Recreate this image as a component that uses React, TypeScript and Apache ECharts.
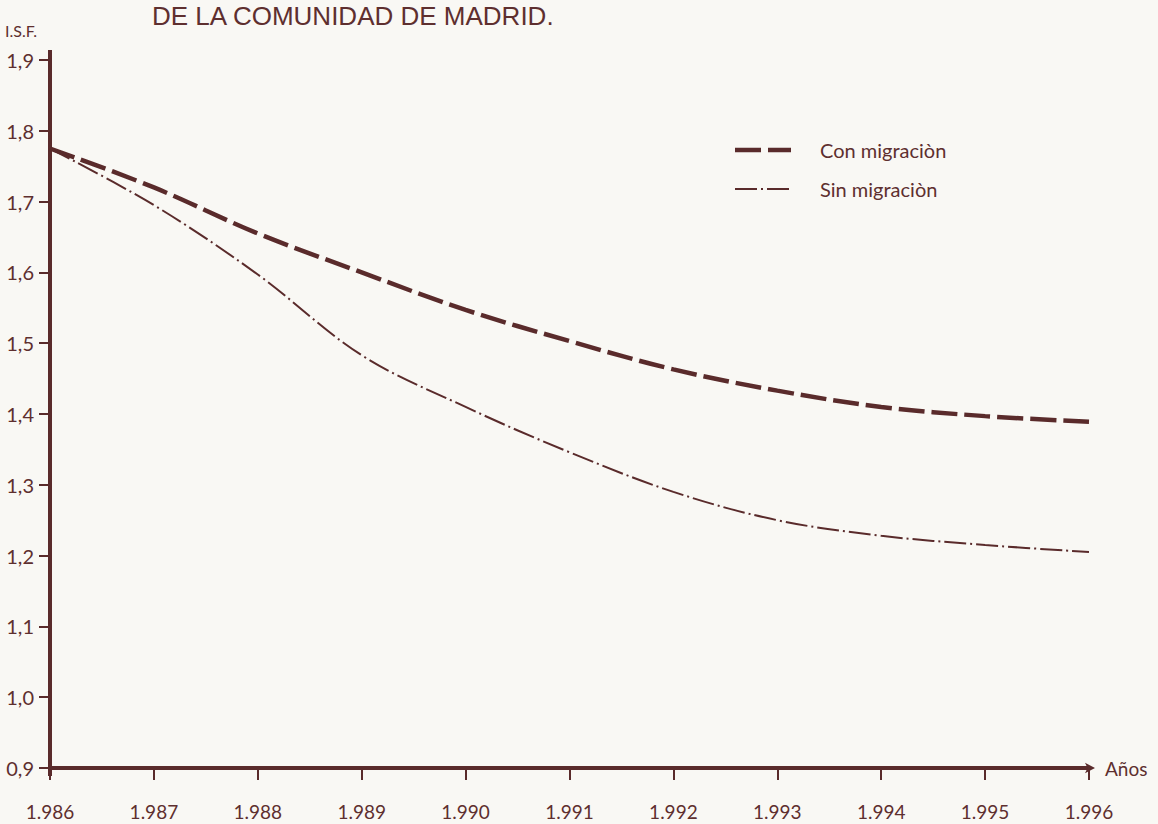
import React, { useEffect, useRef } from "react";
import * as echarts from "echarts";

const years = ["1.986", "1.987", "1.988", "1.989", "1.990", "1.991", "1.992", "1.993", "1.994", "1.995", "1.996"];
const conMigracion = [1.775, 1.72, 1.655, 1.6, 1.547, 1.503, 1.463, 1.433, 1.41, 1.397, 1.389];
const sinMigracion = [1.775, 1.695, 1.597, 1.483, 1.41, 1.346, 1.29, 1.25, 1.228, 1.215, 1.205];
const seriesNames = ["Con migraciòn", "Sin migraciòn"];
const titleText = "DE LA COMUNIDAD DE MADRID.";
const yAxisTitle = "I.S.F.";
const xAxisTitle = "Años";

const INK = "#5a2b2b";
const TEXT = "#5e2f2f";
const FONT = "Lato, 'Liberation Sans', sans-serif";
const CON_DASH = [26, 7];
const SIN_DASH = [22, 4, 2, 4];

export default function App() {
  const ref = useRef<HTMLDivElement>(null);
  useEffect(() => {
    if (!ref.current) return;
    const chart = echarts.init(ref.current, null, { renderer: "svg" });
    chart.setOption({
      animation: false,
      backgroundColor: "#f9f8f4",
      textStyle: { fontFamily: FONT, color: TEXT },
      grid: { left: 50, right: 69, top: 60, bottom: 56, containLabel: false },
      legend: { show: false, data: seriesNames },
      graphic: [
        {
          id: "title",
          type: "text",
          left: 152,
          top: 3,
          style: { text: titleText, fontFamily: "'Liberation Sans', sans-serif", fontSize: 26, fill: TEXT },
        },
        {
          id: "ytitle",
          type: "text",
          left: 5,
          top: 22,
          style: { text: yAxisTitle, fontFamily: FONT, fontSize: 16, fill: TEXT },
        },
        {
          id: "leg0line",
          type: "line",
          shape: { x1: 735, y1: 150, x2: 791, y2: 150 },
          style: { stroke: INK, lineWidth: 4.5, lineDash: CON_DASH },
        },
        {
          id: "leg0text",
          type: "text",
          left: 820,
          top: 140,
          style: { text: seriesNames[0], fontFamily: FONT, fontSize: 20, fill: TEXT },
        },
        {
          id: "leg1line",
          type: "line",
          shape: { x1: 735, y1: 189, x2: 791, y2: 189 },
          style: { stroke: INK, lineWidth: 2, lineDash: SIN_DASH },
        },
        {
          id: "leg1text",
          type: "text",
          left: 820,
          top: 179,
          style: { text: seriesNames[1], fontFamily: FONT, fontSize: 20, fill: TEXT },
        },
      ],
      xAxis: {
        type: "category",
        data: years,
        boundaryGap: false,
        name: xAxisTitle,
        nameLocation: "end",
        nameGap: 16,
        nameTextStyle: { fontFamily: FONT, fontSize: 19, color: TEXT, verticalAlign: "middle", padding: [12, 0, 0, 0] },
        axisLine: { show: true, symbol: ["none", "arrow"], symbolSize: [8, 10], symbolOffset: [0, 6], lineStyle: { color: INK, width: 4 } },
        axisTick: { show: true, alignWithLabel: true, length: 12, lineStyle: { color: INK, width: 2 } },
        axisLabel: { fontFamily: FONT, fontSize: 19, color: TEXT, margin: 34 },
        splitLine: { show: false },
      },
      yAxis: {
        type: "value",
        min: 0.9,
        max: 1.9,
        interval: 0.1,
        axisLine: { show: true, lineStyle: { color: INK, width: 4 } },
        axisTick: { show: true, length: 11, lineStyle: { color: INK, width: 2 } },
        axisLabel: {
          fontFamily: FONT,
          fontSize: 20,
          color: TEXT,
          margin: 16,
          formatter: (v: number) => v.toFixed(1).replace(".", ","),
        },
        splitLine: { show: false },
      },
      series: [
        {
          name: seriesNames[0],
          type: "line",
          data: conMigracion,
          smooth: 0.35,
          symbol: "none",
          lineStyle: { color: INK, width: 4.5, type: CON_DASH },
          itemStyle: { color: INK },
        },
        {
          name: seriesNames[1],
          type: "line",
          data: sinMigracion,
          smooth: 0.35,
          symbol: "none",
          lineStyle: { color: INK, width: 2, type: SIN_DASH },
          itemStyle: { color: INK },
        },
      ],
    });
    const top = chart.convertToPixel({ xAxisIndex: 0, yAxisIndex: 0 }, [0, 1.9]) as number[];
    const bottom = chart.convertToPixel({ xAxisIndex: 0, yAxisIndex: 0 }, [0, 0.9]) as number[];
    chart.setOption({
      graphic: [
        {
          id: "yExtTop",
          type: "line",
          shape: { x1: top[0], y1: top[1] - 10, x2: top[0], y2: top[1] },
          style: { stroke: INK, lineWidth: 4 },
        },
        {
          id: "yExtBottom",
          type: "line",
          shape: { x1: bottom[0], y1: bottom[1], x2: bottom[0], y2: bottom[1] + 8 },
          style: { stroke: INK, lineWidth: 4 },
        },
      ],
    });
    return () => chart.dispose();
  }, []);
  return <div ref={ref} style={{ position: "fixed", left: 0, top: 0, width: 1158, height: 824 }} />;
}
